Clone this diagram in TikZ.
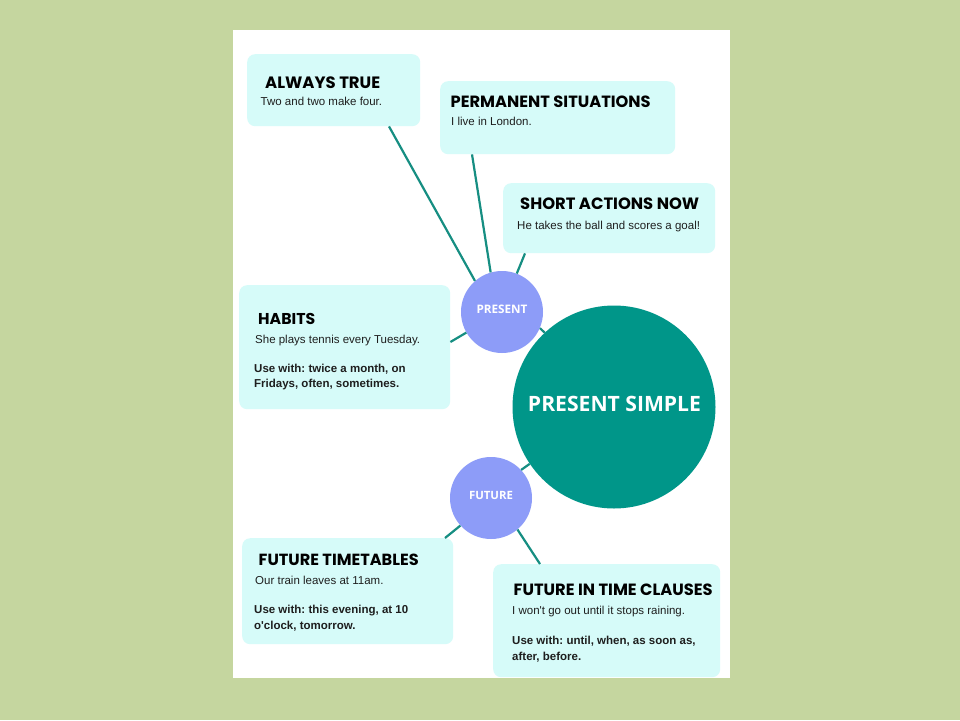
\documentclass[tikz,border=0pt]{standalone}
\usepackage{fontspec}
\setmainfont{Liberation Sans}
\newfontfamily\titlefont{Poppins}
\newfontfamily\circfont{Open Sans}
\usetikzlibrary{calc}
\frenchspacing
\definecolor{bggreen}{RGB}{197,214,159}
\definecolor{boxcol}{RGB}{214,251,249}
\definecolor{tealbig}{RGB}{0,150,137}
\definecolor{purp}{RGB}{141,156,248}
\definecolor{linecol}{RGB}{22,142,130}
\definecolor{bodycol}{RGB}{30,30,30}
\newcommand{\ttlx}[2]{\resizebox{#1}{!}{\titlefont\bfseries\fontsize{16}{18}\selectfont #2}}
\newcommand{\clab}[2]{\resizebox{#1}{!}{\circfont\bfseries\fontsize{14}{16}\selectfont #2}}
\begin{document}
\begin{tikzpicture}[x=1pt,y=-1pt,
  box/.style={fill=boxcol, rounded corners=8pt, inner sep=0pt, draw=none, anchor=north west},
  ttl/.style={anchor=base west, inner sep=0pt, text=black},
  txt/.style={anchor=base west, inner sep=0pt, text=bodycol, font=\fontsize{11.5}{16}\selectfont},
  usew/.style={anchor=base west, inner sep=0pt, text=bodycol, font=\bfseries\fontsize{11.5}{16}\selectfont},
  smallc/.style={circle, fill=purp, inner sep=0pt, minimum size=82pt, text=white},
  bigc/.style={circle, fill=tealbig, inner sep=0pt, minimum size=203pt, text=white},
  conn/.style={draw=linecol, line width=2.2pt}
]
\useasboundingbox (0,0) rectangle (960,720);
\fill[bggreen] (0,0) rectangle (960,720);
\fill[white] (233,30) rectangle (730,678);

% boxes
\node[box, minimum width=173pt, minimum height=72pt] (at) at (247,54) {};
\node[box, minimum width=235pt, minimum height=73pt] (pm) at (440,81) {};
\node[box, minimum width=212pt, minimum height=70pt] (sa) at (503,183) {};
\node[box, minimum width=211pt, minimum height=124pt] (hb) at (239,285) {};
\node[box, minimum width=211pt, minimum height=106pt] (ft) at (242,538) {};
\node[box, minimum width=227pt, minimum height=113pt] (fc) at (493,564) {};

% circles
\node[smallc] (pres) at (502,312) {};
\node[smallc] (fut) at (491,498) {};
\node[bigc] (ps) at (614,407) {};
\node[anchor=center, inner sep=0pt, text=white] (presL) at (502,309.5) {\clab{51pt}{PRESENT}};
\node[anchor=center, inner sep=0pt, text=white] (futL) at (491,495) {\clab{44pt}{FUTURE}};
\node[anchor=center, inner sep=0pt, text=white] (psL) at (614.5,404) {\clab{173pt}{PRESENT SIMPLE}};

% connectors
\draw[conn] ($(at.south west)+(142,0)$) -- (pres.131);
\draw[conn] ($(pm.south west)+(32,0)$) -- (pres.106);
\draw[conn] ($(sa.south west)+(22,0)$) -- (pres.69);
\draw[conn] ($(hb.north east)+(0,57)$) -- (pres.210);
\draw[conn] (pres.-23) -- (ps.133);
\draw[conn] (fut.43) -- (ps.214);
\draw[conn] ($(ft.north west)+(203,0)$) -- (fut.222);
\draw[conn] ($(fc.north west)+(47,0)$) -- (fut.-50);

% texts
\node[ttl] (atT) at (265,88) {\ttlx{115pt}{ALWAYS TRUE}};
\node[txt] (atB) at (260.5,105) {Two and two make four.};

\node[ttl] (pmT) at (450.5,107) {\ttlx{200pt}{PERMANENT SITUATIONS}};
\node[txt] (pmB) at (451,125) {I live in London.};

\node[ttl] (saT) at (520,209) {\ttlx{179pt}{SHORT ACTIONS NOW}};
\node[txt] (saB) at (517,229) {He takes the ball and scores a goal!};

\node[ttl] (hbT) at (258,324) {\ttlx{57pt}{HABITS}};
\node[txt] (hbB) at (255,343) {She plays tennis every Tuesday.};
\node[usew] (hbU1) at (254,372) {Use with: twice a month, on};
\node[usew] (hbU2) at (254,387.5) {Fridays, often, sometimes.};

\node[ttl] (ftT) at (258.5,565) {\ttlx{160pt}{FUTURE TIMETABLES}};
\node[txt] (ftB) at (255,584) {Our train leaves at 11am.};
\node[usew] (ftU1) at (254,613.5) {Use with: this evening, at 10};
\node[usew] (ftU2) at (254,629.5) {o\textquotesingle clock, tomorrow.};

\node[ttl] (fcT) at (513.5,595) {\ttlx{199pt}{FUTURE IN TIME CLAUSES}};
\node[txt] (fcB) at (512,614) {I won\textquotesingle t go out until it stops raining.};
\node[usew] (fcU1) at (512,644.5) {Use with: until, when, as soon as,};
\node[usew] (fcU2) at (512,660) {after, before.};
\end{tikzpicture}
\end{document}
